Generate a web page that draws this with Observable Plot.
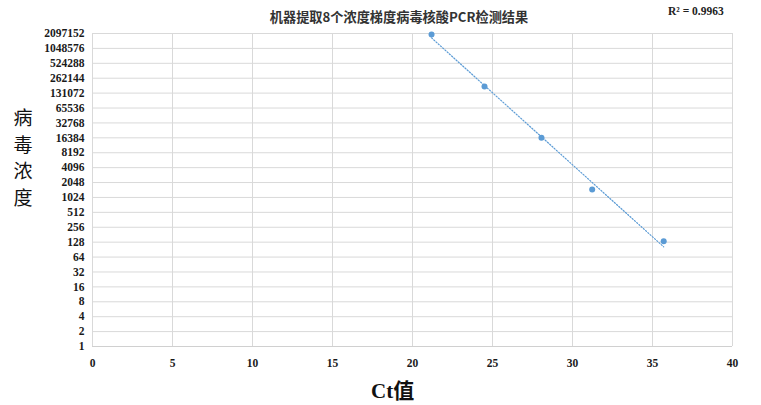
<!DOCTYPE html>
<html>
<head>
<meta charset="utf-8">
<script src="https://cdn.jsdelivr.net/npm/d3@7"></script>
<script src="https://cdn.jsdelivr.net/npm/@observablehq/plot@0.6"></script>
<style>
  html, body { margin: 0; padding: 0; background: #fff; }
  #wrap { position: relative; width: 761px; height: 405px; }
  #wrap svg text { font-family: "Liberation Serif", serif !important; font-weight: bold; font-size: 11.5px; fill: #1a1a1a; }
  .t { position: absolute; white-space: nowrap; color: #222; line-height: 1; }
  #title { left: 0; width: 798px; top: 10px; text-align: center; font: bold 13.2px/1 "Noto Sans CJK SC", sans-serif; color: #333; }
  #r2 { left: 668px; top: 6px; font: bold 11.5px/1 "Liberation Serif", serif; color: #222; }
  .yc { left: 13px; width: 20px; text-align: center; font: 19px/1 "Noto Sans CJK SC", serif; color: #111; }
  #xlab { left: 371px; top: 381px; font: bold 21px/1 "Liberation Serif", "Noto Sans CJK SC", serif; color: #111; }
</style>
</head>
<body>
<div id="wrap"></div>
<script>
const ctValues = [21.19, 24.5, 28.06, 31.23, 35.7];
const concValues = [2000000, 179000, 16400, 1480, 133];
const yTicks = d3.range(0, 22).map(i => 2 ** i);
const xTicks = [0, 5, 10, 15, 20, 25, 30, 35, 40];
const titleText = "机器提取8个浓度梯度病毒核酸PCR检测结果";
const r2Text = "R² = 0.9963";
const yLabel = "病毒浓度";
const xLabel = "Ct值";

const points = ctValues.map((ct, i) => ({ct, conc: concValues[i]}));

// exponential trendline: linear regression of log2(conc) on ct
const lx = ctValues, ly = concValues.map(Math.log2);
const mx = d3.mean(lx), my = d3.mean(ly);
const slope = d3.sum(lx.map((x, i) => (x - mx) * (ly[i] - my))) / d3.sum(lx.map(x => (x - mx) ** 2));
const icpt = my - slope * mx;
const [xmin, xmax] = d3.extent(lx);
const trend = [xmin, xmax].map(x => ({ct: x, conc: 2 ** (icpt + slope * x)}));

const blue = "#5b9bd5";
const chart = Plot.plot({
  width: 761,
  height: 405,
  marginLeft: 92,
  marginRight: 29,
  marginTop: 33,
  marginBottom: 59,
  style: {fontFamily: "'Liberation Serif', serif", fontWeight: "bold", fontSize: "11.5px", color: "#222", background: "#fff"},
  x: {domain: [0, 40]},
  y: {type: "log", base: 2, domain: [1, 2 ** 21]},
  marks: [
    Plot.gridX(xTicks, {stroke: "#d9d9d9", strokeOpacity: 1, strokeWidth: 1}),
    Plot.gridY(yTicks, {stroke: "#d9d9d9", strokeOpacity: 1, strokeWidth: 1}),
    Plot.ruleY([1], {stroke: "#d0d0d0", strokeWidth: 1}),
    Plot.axisX(xTicks, {tickSize: 0, tickPadding: 12, label: null, tickFormat: d => String(d)}),
    Plot.axisY(yTicks, {tickSize: 0, tickPadding: 8, label: null, tickFormat: d => String(d)}),
    Plot.line(trend, {x: "ct", y: "conc", stroke: blue, strokeWidth: 1.2, strokeDasharray: "1.2,1.8"}),
    Plot.dot(points, {x: "ct", y: "conc", r: 3, fill: blue, stroke: "none"})
  ]
});

const wrap = document.getElementById("wrap");
wrap.appendChild(chart);
function addText(id, text) {
  const d = document.createElement("div");
  d.className = "t"; if (id) d.id = id; d.textContent = text;
  wrap.appendChild(d);
  return d;
}
addText("title", titleText);
addText("r2", r2Text);
yLabel.split("").forEach((ch, i) => {
  const d = addText(null, ch);
  d.classList.add("yc");
  d.style.top = (107 + i * 26.5) + "px";
});
addText("xlab", xLabel);
</script>
</body>
</html>
